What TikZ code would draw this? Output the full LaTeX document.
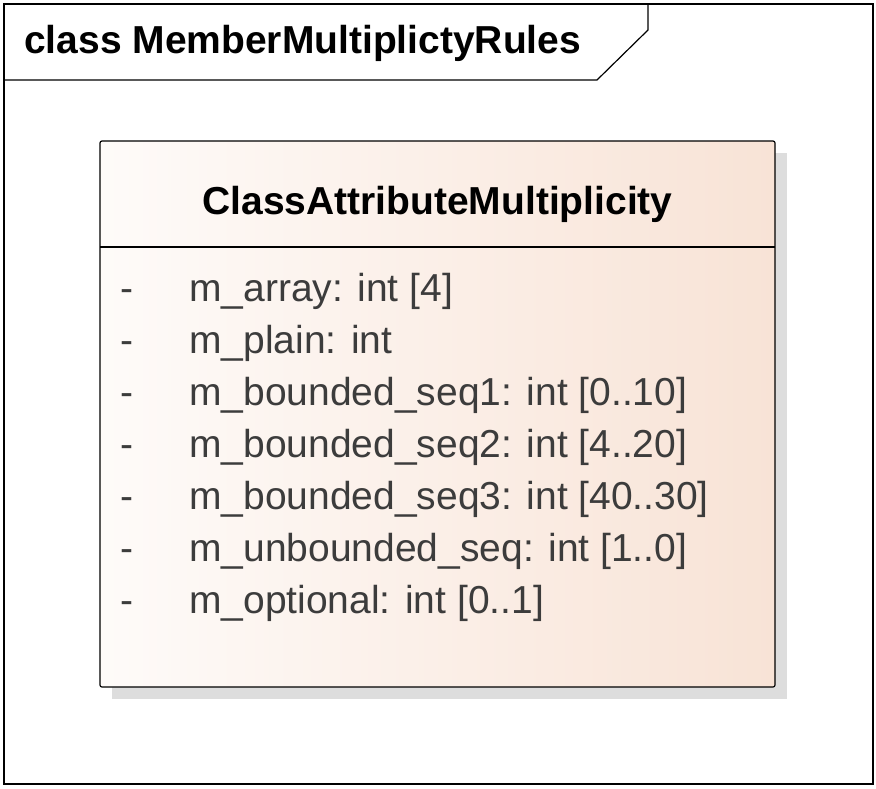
\documentclass[tikz,border=0pt]{standalone}
\usepackage{fontspec}
\setmainfont{Liberation Sans}
\definecolor{boxleft}{RGB}{254,251,249}
\definecolor{boxright}{RGB}{248,227,214}
\definecolor{shadowc}{RGB}{221,221,221}
\definecolor{attrc}{RGB}{60,60,60}
\tikzset{
  framebox/.style={draw=black,line width=1.4pt},
  attr/.style={anchor=base west,inner sep=0pt,text=attrc,font=\fontsize{39}{44}\selectfont},
  titletext/.style={anchor=base west,inner sep=0pt,font=\fontsize{39}{44}\selectfont\bfseries},
}
\begin{document}
\begin{tikzpicture}[x=1pt,y=-1pt]
\useasboundingbox (0,0) rectangle (876,788);
\fill[white] (0,0) rectangle (876,788);
% frame
\draw[framebox] (4,4) rectangle (873,784);
\draw[line width=1.2pt] (4,80) -- (597,80) -- (648,30) -- (648,4);
\node[titletext] (frametitle) at (24,53) {class MemberMultiplictyRules};
% shadow
\fill[shadowc] (112,153) rectangle (787,699);
% class box
\shade[left color=boxleft,right color=boxright,rounded corners=2pt] (100,141) rectangle (775,687);
\draw[line width=1.2pt,rounded corners=2pt] (100,141) rectangle (775,687);
\draw[line width=1.2pt] (100,247) -- (775,247);
\node[titletext,anchor=base] (classname) at (437.5,214) {ClassAttributeMultiplicity};
% attributes
\foreach \i/\t in {0/{m\_array: int [4]},1/{m\_plain: int},2/{m\_bounded\_seq1: int [0..10]},3/{m\_bounded\_seq2: int [4..20]},4/{m\_bounded\_seq3: int [40..30]},5/{m\_unbounded\_seq: int [1..0]},6/{m\_optional: int [0..1]}}{
  \node[attr] (dash\i) at (120,{301+52*\i}) {-};
  \node[attr] (attr\i) at (189,{301+52*\i}) {\t};
}
\end{tikzpicture}
\end{document}
